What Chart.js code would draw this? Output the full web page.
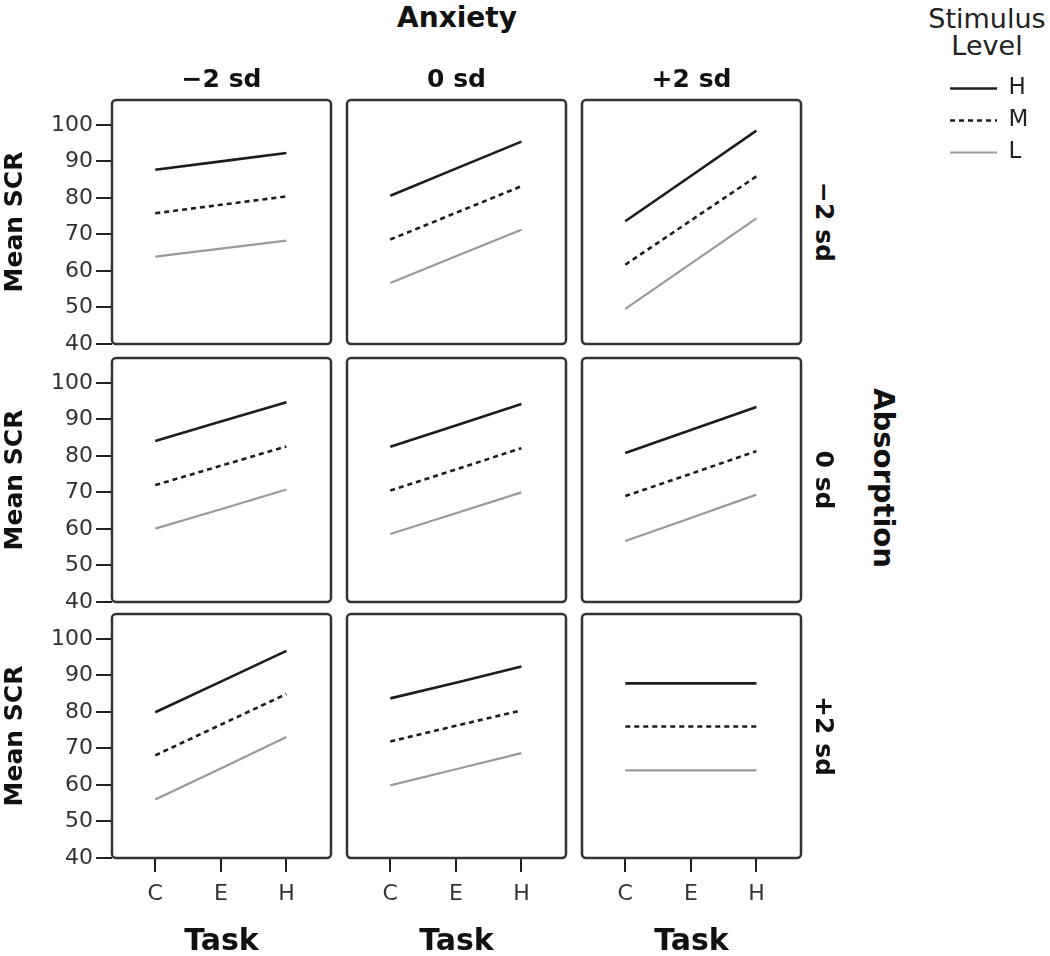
<!DOCTYPE html>
<html lang="en">
<head>
<meta charset="UTF-8">
<title>Mean SCR by Task, Anxiety and Absorption</title>
<style>
  html, body { margin: 0; padding: 0; background: #fff; overflow: hidden; }
  #wrap { position: relative; width: 1050px; height: 956px; font-family: "DejaVu Sans", sans-serif; color: #111; }
  #wrap canvas { position: absolute; }
  .lbl { position: absolute; transform: translate(-50%, -50%); white-space: pre; font-weight: bold; line-height: 1; }
  .rot { transform: translate(-50%, -50%) rotate(90deg); }
  .plain { font-weight: normal; color: #222; }
</style>
</head>
<body>
<div id="wrap"></div>
<script src="https://cdn.jsdelivr.net/npm/chart.js@4/dist/chart.umd.min.js"></script>
<script>
const tasks = ['C', 'E', 'H'];
const levels = ['H', 'M', 'L'];
const anxiety = ['−2 sd', '0 sd', '+2 sd'];     // columns
const absorption = ['−2 sd', '0 sd', '+2 sd'];  // rows

// Mean SCR per stimulus level, [absorption row][anxiety col] -> values at C, E, H
const scrHigh = [
  [[87.7, 90.0, 92.3], [80.6, 88.0, 95.4], [73.6, 86.0, 98.4]],
  [[84.1, 89.4, 94.7], [82.5, 88.3, 94.2], [80.8, 87.1, 93.4]],
  [[79.9, 88.3, 96.7], [83.7, 88.0, 92.4], [87.8, 87.8, 87.8]]
];
const scrMid = [
  [[75.8, 78.1, 80.4], [68.6, 75.9, 83.2], [61.7, 73.8, 85.9]],
  [[72.0, 77.3, 82.6], [70.5, 76.3, 82.1], [69.0, 75.1, 81.3]],
  [[68.1, 76.5, 84.9], [71.9, 76.2, 80.4], [76.0, 76.0, 76.0]]
];
const scrLow = [
  [[63.9, 66.1, 68.3], [56.7, 64.0, 71.3], [49.6, 62.0, 74.4]],
  [[60.1, 65.4, 70.8], [58.6, 64.3, 70.0], [56.7, 63.0, 69.4]],
  [[56.0, 64.5, 73.1], [59.9, 64.3, 68.7], [64.0, 64.0, 64.0]]
];
const series = [scrHigh, scrMid, scrLow];

// styles
const lineColors = ['#1c1c1c', '#1c1c1c', '#9a9a9a'];
const lineWidths = [2.6, 2.6, 2.2];
const lineDashes = [[], [5, 4], []];

const colLeft = [112, 347, 582];
const rowTop = [100, 358, 614];
const boxW = 219, boxH = 244;
const yMin = 40, yMax = 106.8;

Chart.defaults.font.family = "'DejaVu Sans', sans-serif";
Chart.defaults.color = '#222';

const wrap = document.getElementById('wrap');

const panelBox = {
  id: 'panelBox',
  afterDraw(chart) {
    const {ctx, chartArea: a} = chart;
    ctx.save();
    ctx.strokeStyle = '#333';
    ctx.lineWidth = 2.5;
    ctx.beginPath();
    ctx.roundRect(a.left, a.top, a.right - a.left, a.bottom - a.top, 4);
    ctx.stroke();
    ctx.restore();
  }
};

function makeDatasets(r, c) {
  return levels.map((lv, k) => ({
    label: lv,
    data: tasks.map((t, i) => ({x: i, y: series[k][r][c][i]})),
    borderColor: lineColors[k],
    borderWidth: lineWidths[k],
    borderDash: lineDashes[k],
    pointRadius: 0,
    fill: false
  }));
}

function addCanvas(left, top, w, h) {
  const cv = document.createElement('canvas');
  cv.width = w; cv.height = h;
  cv.style.left = left + 'px';
  cv.style.top = top + 'px';
  cv.style.width = w + 'px';
  cv.style.height = h + 'px';
  wrap.appendChild(cv);
  return cv;
}

function panel(r, c) {
  const showY = c === 0, showX = r === 2;
  const padL = showY ? 112 : 4;
  const padB = showX ? 98 : 20;
  const padT = 20, padR = 4;
  const w = boxW + padL + padR, h = boxH + padT + padB;
  const cv = addCanvas(colLeft[c] - padL, rowTop[r] - padT, w, h);

  new Chart(cv, {
    type: 'line',
    data: {datasets: makeDatasets(r, c)},
    options: {
      responsive: false,
      animation: false,
      layout: {autoPadding: false,
               padding: {left: showY ? 0 : padL, right: padR, top: padT, bottom: showX ? 0 : padB}},
      plugins: {legend: {display: false}, tooltip: {enabled: false}},
      scales: {
        x: {
          type: 'linear', min: -0.66, max: 2.68,
          display: showX,
          afterFit: s => { s.height = showX ? padB : 0; },
          border: {display: false},
          grid: {drawOnChartArea: false, tickLength: 14, color: '#222', lineWidth: 2},
          ticks: {stepSize: 1, includeBounds: false, padding: 9, color: '#333', font: {size: 22},
                  callback: v => tasks[v]},
          title: {display: true, text: 'Task', color: '#111',
                  font: {size: 30, weight: 'bold', lineHeight: 0.9}, padding: {top: 0, bottom: 0}}
        },
        y: {
          min: yMin, max: yMax,
          display: showY,
          afterFit: s => { s.width = showY ? padL : 0; },
          border: {display: false},
          grid: {drawOnChartArea: false, tickLength: 16, color: '#222', lineWidth: 2},
          ticks: {stepSize: 10, includeBounds: false, padding: 3, color: '#333', font: {size: 22}},
          title: {display: true, text: 'Mean SCR', color: '#111',
                  font: {size: 25, weight: 'bold', lineHeight: 1}, padding: {top: 3, bottom: 0}}
        }
      }
    },
    plugins: [panelBox]
  });
}

for (let r = 0; r < 3; r++) for (let c = 0; c < 3; c++) panel(r, c);

// legend
const lgCv = addCanvas(941, 68, 109, 110);
new Chart(lgCv, {
  type: 'line',
  data: {datasets: levels.map((lv, k) => ({
    label: lv, data: [], borderColor: lineColors[k], borderWidth: lineWidths[k], borderDash: lineDashes[k]
  }))},
  options: {
    responsive: false,
    animation: false,
    layout: {padding: 0},
    scales: {x: {display: false}, y: {display: false}},
    plugins: {
      tooltip: {enabled: false},
      legend: {
        position: 'left', align: 'start', maxWidth: 109,
        labels: {
          usePointStyle: true, pointStyle: 'line', pointStyleWidth: 47, padding: 9,
          color: '#222', font: {size: 23},
          generateLabels: chart => chart.data.datasets.map((ds, i) => ({
            text: ds.label, datasetIndex: i, pointStyle: 'line',
            strokeStyle: ds.borderColor, fillStyle: ds.borderColor,
            lineWidth: ds.borderWidth, lineDash: ds.borderDash, fontColor: '#222'
          }))
        }
      }
    }
  }
});

// text labels
function label(text, x, y, size, cls) {
  const d = document.createElement('div');
  d.className = 'lbl' + (cls ? ' ' + cls : '');
  d.textContent = text;
  d.style.left = x + 'px';
  d.style.top = y + 'px';
  d.style.fontSize = size + 'px';
  wrap.appendChild(d);
}

label('Anxiety', 457, 18, 28);
anxiety.forEach((t, c) => label(t, colLeft[c] + boxW / 2, 78, 25));
absorption.forEach((t, r) => label(t, 824, rowTop[r] + boxH / 2, 25, 'rot'));
label('Absorption', 883, 478, 29, 'rot');
label('Stimulus', 987, 18, 27, 'plain');
label('Level', 987, 45, 27, 'plain');
</script>
</body>
</html>
